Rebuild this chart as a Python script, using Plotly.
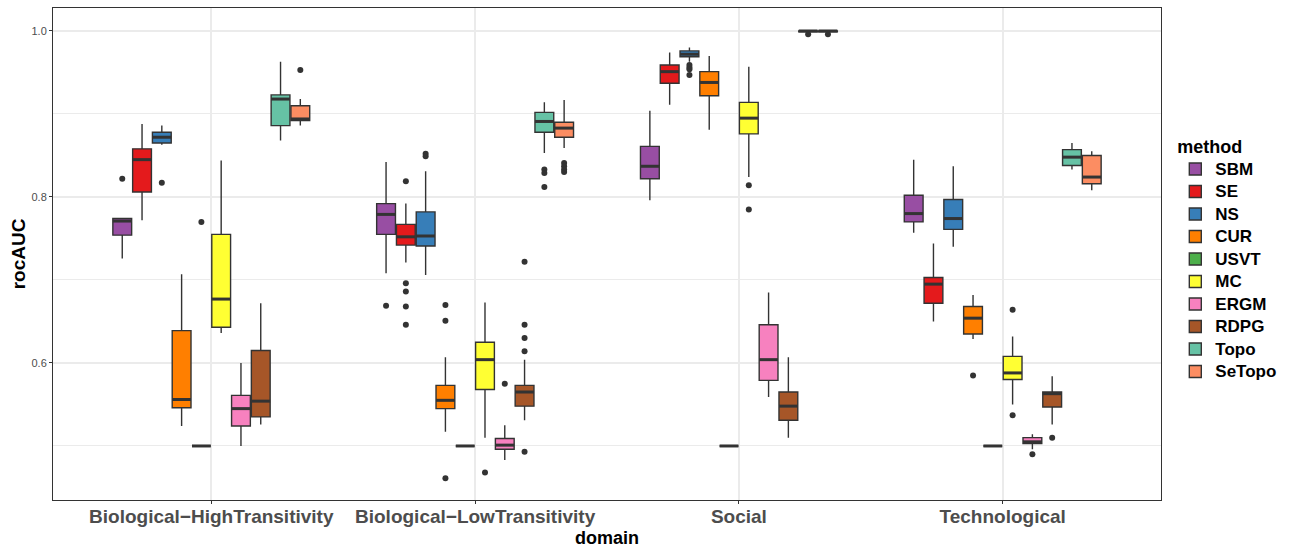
import plotly.graph_objects as go

domains = ["Biological−HighTransitivity", "Biological−LowTransitivity", "Social", "Technological"]
methods = ["SBM", "SE", "NS", "CUR", "USVT", "MC", "ERGM", "RDPG", "Topo", "SeTopo"]
colors = ["#984EA3", "#E41A1C", "#377EB8", "#FF7F00", "#4DAF4A",
          "#FFFF33", "#F781BF", "#A65628", "#66C2A5", "#FC8D62"]

# Box statistics per method, one value per domain (in the order of `domains`)
lower = {
    "SBM":    [0.726, 0.708, 0.796, 0.757],
    "SE":     [0.772, 0.721, 0.911, 0.650],
    "NS":     [0.863, 0.706, 0.963, 0.740],
    "CUR":    [0.524, 0.517, 0.881, 0.629],
    "USVT":   [0.500, 0.500, 0.500, 0.500],
    "MC":     [0.636, 0.510, 0.824, 0.550],
    "ERGM":   [0.500, 0.483, 0.559, 0.496],
    "RDPG":   [0.526, 0.531, 0.510, 0.526],
    "Topo":   [0.868, 0.853, 0.998, 0.833],
    "SeTopo": [0.886, 0.859, 0.998, 0.808],
}
q1 = {
    "SBM":    [0.754, 0.755, 0.822, 0.770],
    "SE":     [0.806, 0.742, 0.937, 0.672],
    "NS":     [0.865, 0.741, 0.969, 0.761],
    "CUR":    [0.546, 0.545, 0.922, 0.635],
    "USVT":   [0.500, 0.500, 0.500, 0.500],
    "MC":     [0.643, 0.568, 0.876, 0.580],
    "ERGM":   [0.524, 0.496, 0.579, 0.503],
    "RDPG":   [0.535, 0.548, 0.531, 0.547],
    "Topo":   [0.886, 0.878, 0.999, 0.838],
    "SeTopo": [0.892, 0.872, 0.999, 0.816],
}
median = {
    "SBM":    [0.771, 0.779, 0.837, 0.780],
    "SE":     [0.845, 0.752, 0.951, 0.695],
    "NS":     [0.872, 0.753, 0.972, 0.774],
    "CUR":    [0.556, 0.555, 0.938, 0.654],
    "USVT":   [0.500, 0.500, 0.500, 0.500],
    "MC":     [0.677, 0.604, 0.895, 0.588],
    "ERGM":   [0.545, 0.501, 0.604, 0.505],
    "RDPG":   [0.554, 0.565, 0.548, 0.563],
    "Topo":   [0.918, 0.891, 1.000, 0.848],
    "SeTopo": [0.894, 0.883, 1.000, 0.824],
}
q3 = {
    "SBM":    [0.774, 0.792, 0.861, 0.802],
    "SE":     [0.858, 0.767, 0.959, 0.703],
    "NS":     [0.878, 0.782, 0.976, 0.797],
    "CUR":    [0.639, 0.573, 0.951, 0.668],
    "USVT":   [0.500, 0.500, 0.500, 0.500],
    "MC":     [0.755, 0.625, 0.914, 0.608],
    "ERGM":   [0.561, 0.509, 0.646, 0.510],
    "RDPG":   [0.615, 0.573, 0.565, 0.565],
    "Topo":   [0.923, 0.902, 1.000, 0.857],
    "SeTopo": [0.910, 0.890, 1.000, 0.850],
}
upper = {
    "SBM":    [0.774, 0.842, 0.904, 0.845],
    "SE":     [0.888, 0.792, 0.974, 0.744],
    "NS":     [0.886, 0.831, 0.980, 0.837],
    "CUR":    [0.707, 0.607, 0.970, 0.682],
    "USVT":   [0.500, 0.500, 0.500, 0.500],
    "MC":     [0.844, 0.673, 0.957, 0.632],
    "ERGM":   [0.600, 0.525, 0.685, 0.514],
    "RDPG":   [0.672, 0.604, 0.607, 0.584],
    "Topo":   [0.963, 0.914, 1.000, 0.865],
    "SeTopo": [0.918, 0.917, 1.000, 0.855],
}
# Outlying observations: (domain index, value)
outliers = {
    "SBM":    [(0, 0.822), (1, 0.669)],
    "SE":     [(1, 0.819), (1, 0.696), (1, 0.686), (1, 0.668), (1, 0.646)],
    "NS":     [(0, 0.817), (1, 0.852), (1, 0.849),
               (2, 0.959), (2, 0.956), (2, 0.954), (2, 0.947)],
    "CUR":    [(1, 0.670), (1, 0.651), (1, 0.461), (3, 0.585)],
    "USVT":   [(0, 0.770)],
    "MC":     [(1, 0.468), (2, 0.814), (2, 0.785), (3, 0.664), (3, 0.537)],
    "ERGM":   [(1, 0.575), (3, 0.490)],
    "RDPG":   [(1, 0.722), (1, 0.646), (1, 0.630), (1, 0.614), (1, 0.493), (3, 0.510)],
    "Topo":   [(1, 0.833), (1, 0.829), (1, 0.812), (2, 0.996)],
    "SeTopo": [(0, 0.953), (1, 0.841), (1, 0.837), (1, 0.833), (1, 0.830), (2, 0.996)],
}

# dodge layout: 10 boxes share 0.75 of each category slot
dodge = 0.75
slot = dodge / len(methods)
box_w = slot * 0.95
line_col = "#333333"


def position(d, j):
    return (d + 1) - dodge / 2 + slot / 2 + j * slot


fig = go.Figure()
for j, m in enumerate(methods):
    xs = [position(d, j) for d in range(len(domains))]
    fig.add_trace(go.Box(
        name=f"<span style='font-size:17px'>{m}</span>", legendgroup=m, x=xs,
        q1=q1[m], median=median[m], q3=q3[m],
        lowerfence=lower[m], upperfence=upper[m],
        width=box_w, whiskerwidth=0,
        fillcolor=colors[j], line=dict(color=line_col, width=1.4),
        boxpoints=False, hoverinfo="skip",
    ))
    # thicker median bar, as in the ggplot style
    mx, my = [], []
    for d, x in enumerate(xs):
        mx += [x - box_w / 2, x + box_w / 2, None]
        my += [median[m][d], median[m][d], None]
    fig.add_trace(go.Scatter(
        x=mx, y=my, mode="lines", line=dict(color=line_col, width=3),
        showlegend=False, legendgroup=m, hoverinfo="skip",
    ))
    if outliers[m]:
        fig.add_trace(go.Scatter(
            x=[position(d, j) for d, _ in outliers[m]],
            y=[v for _, v in outliers[m]],
            mode="markers", marker=dict(color=line_col, size=6),
            showlegend=False, legendgroup=m, hoverinfo="skip",
        ))

font_family = "Liberation Sans, Arial, Helvetica, sans-serif"

fig.update_layout(
    width=1289, height=548,
    margin=dict(l=53, r=127, t=8, b=48),
    paper_bgcolor="white", plot_bgcolor="white",
    boxmode="overlay",
    font=dict(family=font_family, color="black"),
    showlegend=True,
    legend=dict(
        title=dict(text="method", font=dict(size=18, weight="bold", color="black")),
        font=dict(size=15, weight="bold", color="black"),
        x=1.012, xanchor="left", y=0.49, yanchor="middle",
        tracegroupgap=0, bgcolor="rgba(0,0,0,0)",
    ),
    xaxis=dict(
        range=[0.4, 4.6], tickmode="array",
        tickvals=[1, 2, 3, 4], ticktext=domains,
        tickfont=dict(size=19, weight="bold", color="#4D4D4D"),
        ticklabelstandoff=-4,
        showgrid=True, gridcolor="#EBEBEB", gridwidth=1.5,
        zeroline=False, showline=True, linecolor="#333333", linewidth=1, mirror=True,
        ticks="outside", ticklen=3, tickcolor="#333333", automargin=False,
        title=dict(text="domain", font=dict(size=18, weight="bold", color="black"), standoff=8),
    ),
    yaxis=dict(
        range=[0.4349, 1.0277], tickmode="array",
        tickvals=[0.6, 0.8, 1.0], ticktext=["0.6", "0.8", "1.0"],
        tickfont=dict(size=11, color="#4D4D4D"),
        showgrid=True, gridcolor="#EBEBEB", gridwidth=1.5,
        minor=dict(tickvals=[0.5, 0.7, 0.9], showgrid=True, gridcolor="#EBEBEB", gridwidth=0.8),
        zeroline=False, showline=True, linecolor="#333333", linewidth=1, mirror=True,
        ticks="outside", ticklen=3, tickcolor="#333333", automargin=False,
        title=dict(text="rocAUC", font=dict(size=19, weight="bold", color="black"), standoff=0),
    ),
)

fig.write_html("out.html")
